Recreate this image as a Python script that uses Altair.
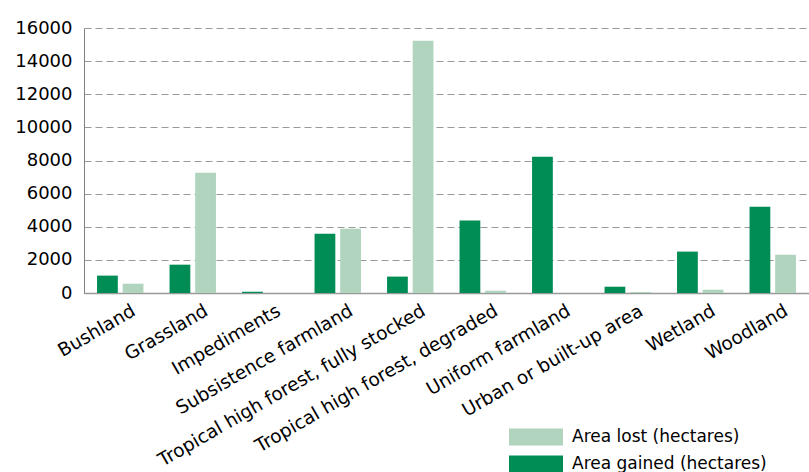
import altair as alt
import pandas as pd

categories = [
    "Bushland", "Grassland", "Impediments", "Subsistence farmland",
    "Tropical high forest, fully stocked", "Tropical high forest, degraded",
    "Uniform farmland", "Urban or built-up area", "Wetland", "Woodland",
]
area_gained = [1050, 1710, 80, 3580, 990, 4370, 8230, 380, 2500, 5210]
area_lost = [560, 7260, 0, 3880, 15230, 140, 0, 60, 200, 2310]

series_gained = "Area gained (hectares)"
series_lost = "Area lost (hectares)"

rows = []
for c, g, l in zip(categories, area_gained, area_lost):
    rows.append({"category": c, "series": series_gained, "value": g})
    rows.append({"category": c, "series": series_lost, "value": l})
df = pd.DataFrame(rows)

FONT = "DejaVu Sans"
rect_path = "M-1.6,-0.5L1.6,-0.5L1.6,0.5L-1.6,0.5Z"

chart = alt.Chart(df).mark_bar().encode(
    x=alt.X(
        "category:N",
        sort=categories,
        scale=alt.Scale(paddingInner=0.36, paddingOuter=0.18),
        axis=alt.Axis(
            title=None,
            labelAngle=-30,
            labelFontSize=18.5,
            labelFont=FONT,
            labelColor="#000000",
            ticks=False,
            labelPadding=8,
            labelOffset=9,
            labelLimit=0,
            domainColor="#999999",
            domainWidth=1.5,
            labelOverlap=False,
        ),
    ),
    xOffset=alt.XOffset(
        "series:N",
        sort=[series_gained, series_lost],
        scale=alt.Scale(paddingInner=0.19, paddingOuter=0),
    ),
    y=alt.Y(
        "value:Q",
        scale=alt.Scale(domain=[0, 16000]),
        axis=alt.Axis(
            title=None,
            values=list(range(0, 16001, 2000)),
            format="d",
            labelFontSize=18,
            labelFont=FONT,
            labelColor="#000000",
            ticks=False,
            labelPadding=12,
            domainColor="#808080",
            grid=True,
            gridColor="#999999",
            gridDash=[7, 4],
            gridWidth=1,
        ),
    ),
    color=alt.Color(
        "series:N",
        scale=alt.Scale(
            domain=[series_lost, series_gained],
            range=["#B0D4BE", "#008C55"],
        ),
        legend=alt.Legend(
            title=None,
            orient="none",
            legendX=435,
            legendY=392,
            symbolType=rect_path,
            symbolSize=1139,
            symbolStrokeWidth=0,
            labelFontSize=17,
            labelFont=FONT,
            labelColor="#000000",
            labelOffset=19,
            labelLimit=0,
            rowPadding=1,
        ),
    ),
).properties(
    width=725,
    height=265,
    autosize=alt.AutoSizeParams(type="none"),
    padding={"left": 84, "top": 28, "right": 0, "bottom": 179},
).configure_view(stroke=None)

chart.save("out.html", embed_options={"renderer": "svg", "actions": False})
